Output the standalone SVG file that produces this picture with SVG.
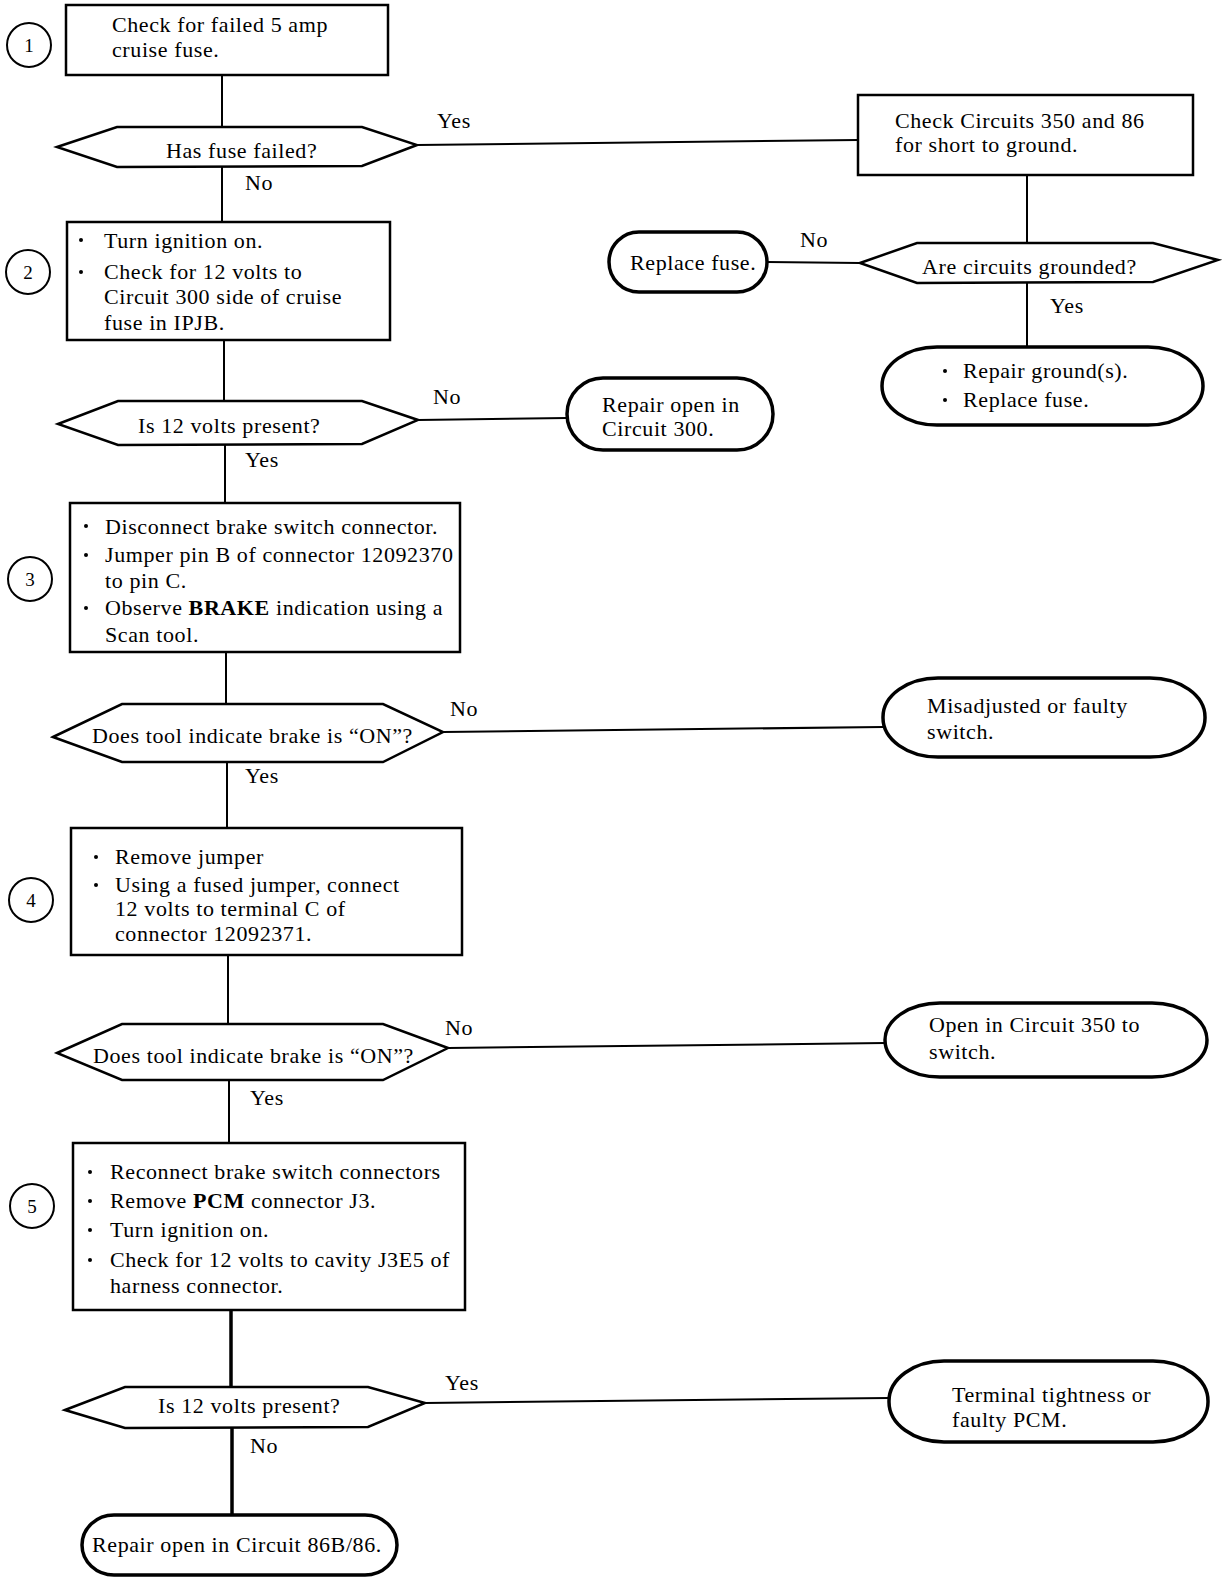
<svg xmlns="http://www.w3.org/2000/svg" width="1232" height="1578" viewBox="0 0 1232 1578">
<style>
text{font-family:"Liberation Serif","Times New Roman",serif;font-size:22px;letter-spacing:0.6px;fill:#000}
.num{font-size:19px;letter-spacing:0;text-anchor:middle}
.box{fill:#fff;stroke:#000;stroke-width:2.5}
.hex{fill:#fff;stroke:#000;stroke-width:2.5;stroke-linejoin:miter}
.term{fill:#fff;stroke:#000;stroke-width:3.5}
.circ{fill:#fff;stroke:#000;stroke-width:2}
.dot{fill:#000}
.conn line{stroke:#000;stroke-width:2}
.conn line.thick{stroke-width:3.5}
</style>
<rect width="1232" height="1578" fill="#fff"/>
<g class="conn" id="connectors">
<line x1="222" y1="75" x2="222" y2="127"/>
<line x1="222" y1="167" x2="222" y2="222"/>
<line x1="417" y1="145" x2="858" y2="140"/>
<line x1="1027" y1="175" x2="1027" y2="243"/>
<line x1="860" y1="263" x2="767" y2="262"/>
<line x1="1027" y1="283" x2="1027" y2="347"/>
<line x1="224" y1="340" x2="224" y2="401"/>
<line x1="418" y1="420" x2="567" y2="418"/>
<line x1="225" y1="445" x2="225" y2="503"/>
<line x1="226" y1="652" x2="226" y2="704"/>
<line x1="443" y1="732" x2="883" y2="727"/>
<line x1="227" y1="762" x2="227" y2="828"/>
<line x1="228" y1="955" x2="228" y2="1024"/>
<line x1="448" y1="1048" x2="885" y2="1043"/>
<line x1="229" y1="1080" x2="229" y2="1143"/>
<line class="thick" x1="231" y1="1310" x2="231" y2="1387"/>
<line x1="425" y1="1403" x2="889" y2="1398"/>
<line class="thick" x1="232" y1="1428" x2="232" y2="1515"/>
<text x="437" y="128">Yes</text>
<text x="245" y="190">No</text>
<text x="800" y="247">No</text>
<text x="1050" y="313">Yes</text>
<text x="433" y="404">No</text>
<text x="245" y="467">Yes</text>
<text x="450" y="716">No</text>
<text x="245" y="783">Yes</text>
<text x="445" y="1035">No</text>
<text x="250" y="1105">Yes</text>
<text x="445" y="1390">Yes</text>
<text x="250" y="1453">No</text>
</g>
<g id="step1">
<ellipse class="circ" cx="29" cy="45" rx="22" ry="22"/>
<text class="num" x="29" y="52">1</text>
</g>
<g id="step2">
<ellipse class="circ" cx="28" cy="272" rx="22" ry="22"/>
<text class="num" x="28" y="279">2</text>
</g>
<g id="step3">
<ellipse class="circ" cx="30" cy="579" rx="22" ry="22"/>
<text class="num" x="30" y="586">3</text>
</g>
<g id="step4">
<ellipse class="circ" cx="31" cy="900" rx="22" ry="22"/>
<text class="num" x="31" y="907">4</text>
</g>
<g id="step5">
<ellipse class="circ" cx="32" cy="1206" rx="22" ry="22"/>
<text class="num" x="32" y="1213">5</text>
</g>
<g id="box1">
<rect class="box" x="66" y="5" width="322" height="70"/>
<text x="112" y="32">Check for failed 5 amp</text>
<text x="112" y="57">cruise fuse.</text>
</g>
<g id="dec1">
<polygon class="hex" points="57,147 117,127 362,127 417,145 362,166 117,167"/>
<text x="166" y="158">Has fuse failed?</text>
</g>
<g id="checkCircuits">
<rect class="box" x="858" y="95" width="335" height="80"/>
<text x="895" y="128">Check Circuits 350 and 86</text>
<text x="895" y="152">for short to ground.</text>
</g>
<g id="decGrounded">
<polygon class="hex" points="860,263 917,243 1153,243 1218,260 1153,282 917,283"/>
<text x="922" y="274">Are circuits grounded?</text>
</g>
<g id="replaceFuse">
<rect class="term" x="609" y="232" width="158" height="60" rx="30" ry="30"/>
<text x="630" y="270">Replace fuse.</text>
</g>
<g id="repairGround">
<rect class="term" x="882" y="347" width="321" height="78" rx="55" ry="39"/>
<circle class="dot" cx="945" cy="371" r="2"/>
<text x="963" y="378">Repair ground(s).</text>
<circle class="dot" cx="945" cy="400" r="2"/>
<text x="963" y="407">Replace fuse.</text>
</g>
<g id="box2">
<rect class="box" x="67" y="222" width="323" height="118"/>
<circle class="dot" cx="81" cy="240" r="2"/>
<text x="104" y="248">Turn ignition on.</text>
<circle class="dot" cx="81" cy="272" r="2"/>
<text x="104" y="279">Check for 12 volts to</text>
<text x="104" y="304">Circuit 300 side of cruise</text>
<text x="104" y="330">fuse in IPJB.</text>
</g>
<g id="dec2">
<polygon class="hex" points="58,424 118,401 362,401 418,420 362,444 118,445"/>
<text x="138" y="433">Is 12 volts present?</text>
</g>
<g id="repairOpen300">
<rect class="term" x="567" y="378" width="206" height="72" rx="36" ry="36"/>
<text x="602" y="412">Repair open in</text>
<text x="602" y="436">Circuit 300.</text>
</g>
<g id="box3">
<rect class="box" x="70" y="503" width="390" height="149"/>
<circle class="dot" cx="86" cy="526" r="2"/>
<text x="105" y="534">Disconnect brake switch connector.</text>
<circle class="dot" cx="86" cy="555" r="2"/>
<text x="105" y="562">Jumper pin B of connector 12092370</text>
<text x="105" y="588">to pin C.</text>
<circle class="dot" cx="86" cy="608" r="2"/>
<text x="105" y="615">Observe <tspan font-weight="bold">BRAKE</tspan> indication using a</text>
<text x="105" y="642">Scan tool.</text>
</g>
<g id="dec3">
<polygon class="hex" points="53,737 122,704 383,704 443,732 383,762 122,762"/>
<text x="92" y="743">Does tool indicate brake is “ON”?</text>
</g>
<g id="misadjusted">
<rect class="term" x="883" y="678" width="322" height="79" rx="55" ry="39"/>
<text x="927" y="713">Misadjusted or faulty</text>
<text x="927" y="739">switch.</text>
</g>
<g id="box4">
<rect class="box" x="71" y="828" width="391" height="127"/>
<circle class="dot" cx="96" cy="857" r="2"/>
<text x="115" y="864">Remove jumper</text>
<circle class="dot" cx="96" cy="885" r="2"/>
<text x="115" y="892">Using a fused jumper, connect</text>
<text x="115" y="916">12 volts to terminal C of</text>
<text x="115" y="941">connector 12092371.</text>
</g>
<g id="dec4">
<polygon class="hex" points="57,1053 122,1024 383,1024 448,1048 383,1080 122,1080"/>
<text x="93" y="1063">Does tool indicate brake is “ON”?</text>
</g>
<g id="open350">
<rect class="term" x="885" y="1003" width="322" height="74" rx="55" ry="37"/>
<text x="929" y="1032">Open in Circuit 350 to</text>
<text x="929" y="1059">switch.</text>
</g>
<g id="box5">
<rect class="box" x="73" y="1143" width="392" height="167"/>
<circle class="dot" cx="90" cy="1172" r="2"/>
<text x="110" y="1179">Reconnect brake switch connectors</text>
<circle class="dot" cx="90" cy="1201" r="2"/>
<text x="110" y="1208">Remove <tspan font-weight="bold">PCM</tspan> connector J3.</text>
<circle class="dot" cx="90" cy="1230" r="2"/>
<text x="110" y="1237">Turn ignition on.</text>
<circle class="dot" cx="90" cy="1260" r="2"/>
<text x="110" y="1267">Check for 12 volts to cavity J3E5 of</text>
<text x="110" y="1293">harness connector.</text>
</g>
<g id="dec5">
<polygon class="hex" points="65,1410 125,1387 368,1387 425,1403 368,1427 125,1428"/>
<text x="158" y="1413">Is 12 volts present?</text>
</g>
<g id="terminalPCM">
<rect class="term" x="889" y="1361" width="319" height="81" rx="55" ry="40"/>
<text x="952" y="1402">Terminal tightness or</text>
<text x="952" y="1427">faulty PCM.</text>
</g>
<g id="repair86">
<rect class="term" x="82" y="1515" width="315" height="60" rx="32" ry="30"/>
<text x="92" y="1552">Repair open in Circuit 86B/86.</text>
</g>
</svg>
